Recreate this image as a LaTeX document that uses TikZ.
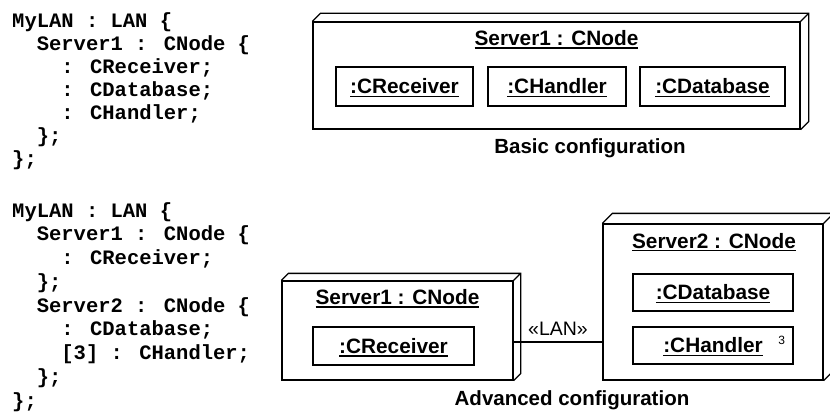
\documentclass[tikz,border=0pt]{standalone}
\usepackage{fontspec}
\newfontfamily\arialf{Liberation Sans}
\newfontfamily\courf{Liberation Mono}
\newcommand\myul[1]{\leavevmode\vtop{\hbox{#1}\kern1.6pt\hrule height 1.4pt}}
\newcommand\threed[2]{\draw[boxline] (#1.north west) -- ++(#2,-#2) -- ([shift={(#2pt,#2pt)}]#1.north east) -- ([shift={(#2pt,#2pt)}]#1.south east) -- (#1.south east) (#1.north east) -- ++(#2,-#2);}
\begin{document}
\begin{tikzpicture}[x=1pt,y=-1pt,
  boxline/.style={line width=1.3pt, line join=miter},
  devbox/.style={draw, line width=1.3pt, inner sep=0pt},
  compbox/.style={draw, line width=1.3pt, inner sep=0pt, minimum height=39pt,
    text height=14.8pt, text depth=0pt, font=\arialf\bfseries\fontsize{20.8}{24}\selectfont},
  titletext/.style={anchor=base, inner sep=0pt, font=\arialf\bfseries\fontsize{20.8}{24}\selectfont},
  captiontext/.style={inner sep=0pt, font=\arialf\bfseries\fontsize{20.5}{24}\selectfont},
  codeline/.style={anchor=base west, inner sep=0pt, font=\courf\bfseries\fontsize{20.5}{24}\selectfont}]
\useasboundingbox (0,0) rectangle (830,417);

% ---------- code, block 1
\node[codeline] (c1) at (12,27.3) {MyLAN : LAN \{};
\node[codeline] (c2) at (36.6,50.3) {Server1 : CNode \{};
\node[codeline] (c3) at (61.2,73.3) {: CReceiver;};
\node[codeline] (c4) at (61.2,96.3) {: CDatabase;};
\node[codeline] (c5) at (61.2,119.3) {: CHandler;};
\node[codeline] (c6) at (36.6,142.3) {\};};
\node[codeline] (c7) at (12,165.3) {\};};
% ---------- code, block 2
\node[codeline] (d1) at (12,217) {MyLAN : LAN \{};
\node[codeline] (d2) at (36.6,240.75) {Server1 : CNode \{};
\node[codeline] (d3) at (61.2,264.5) {: CReceiver;};
\node[codeline] (d4) at (36.6,288.25) {\};};
\node[codeline] (d5) at (36.6,312) {Server2 : CNode \{};
\node[codeline] (d6) at (61.2,335.75) {: CDatabase;};
\node[codeline] (d7) at (61.2,359.5) {[3] : CHandler;};
\node[codeline] (d8) at (36.6,383.25) {\};};
\node[codeline] (d9) at (12,407) {\};};

% ---------- basic configuration
\node[devbox, minimum width=487pt, minimum height=107pt] (s1) at (556.5,75.5) {};
\threed{s1}{8}
\node[titletext] (s1t) at (556.5,45.5) {\myul{Server1 : CNode}};
\node[compbox, minimum width=137pt] (b1) at (404.5,86.5) {\myul{:CReceiver}};
\node[compbox, minimum width=138pt] (b2) at (557,86.5) {\myul{:CHandler}};
\node[compbox, minimum width=145pt] (b3) at (712.5,86.5) {\myul{:CDatabase}};
\node[captiontext] (cap1) at (590,148) {Basic configuration};

% ---------- advanced configuration
\node[devbox, minimum width=231pt, minimum height=99pt] (a1) at (397.5,330.5) {};
\threed{a1}{7}
\node[titletext] (a1t) at (397.5,304.3) {\myul{Server1 : CNode}};
\node[compbox, minimum width=161pt, minimum height=38pt] (ar) at (393.5,346) {\myul{:CReceiver}};

\node[devbox, minimum width=220pt, minimum height=156pt] (a2) at (713,302) {};
\threed{a2}{10}
\node[titletext] (a2t) at (714,248) {\myul{Server2 : CNode}};
\node[compbox, minimum width=160pt, minimum height=37pt] (ad) at (713,292.5) {\myul{:CDatabase}};
\node[compbox, minimum width=160pt, minimum height=37pt] (ah) at (713,345.5) {\myul{:CHandler}};
\node[inner sep=0pt, font=\arialf\fontsize{12}{14}\selectfont] (m3) at (781.7,340) {3};

\draw[boxline] ([yshift=-11.5pt]a1.east) -- ([yshift=-11.5pt]a1.east -| a2.west)
  node[midway, above, inner sep=6pt, font=\arialf\fontsize{19.5}{22}\selectfont] (lan) {«LAN»};

\node[captiontext] (cap2) at (572,400) {Advanced configuration};
\end{tikzpicture}
\end{document}
